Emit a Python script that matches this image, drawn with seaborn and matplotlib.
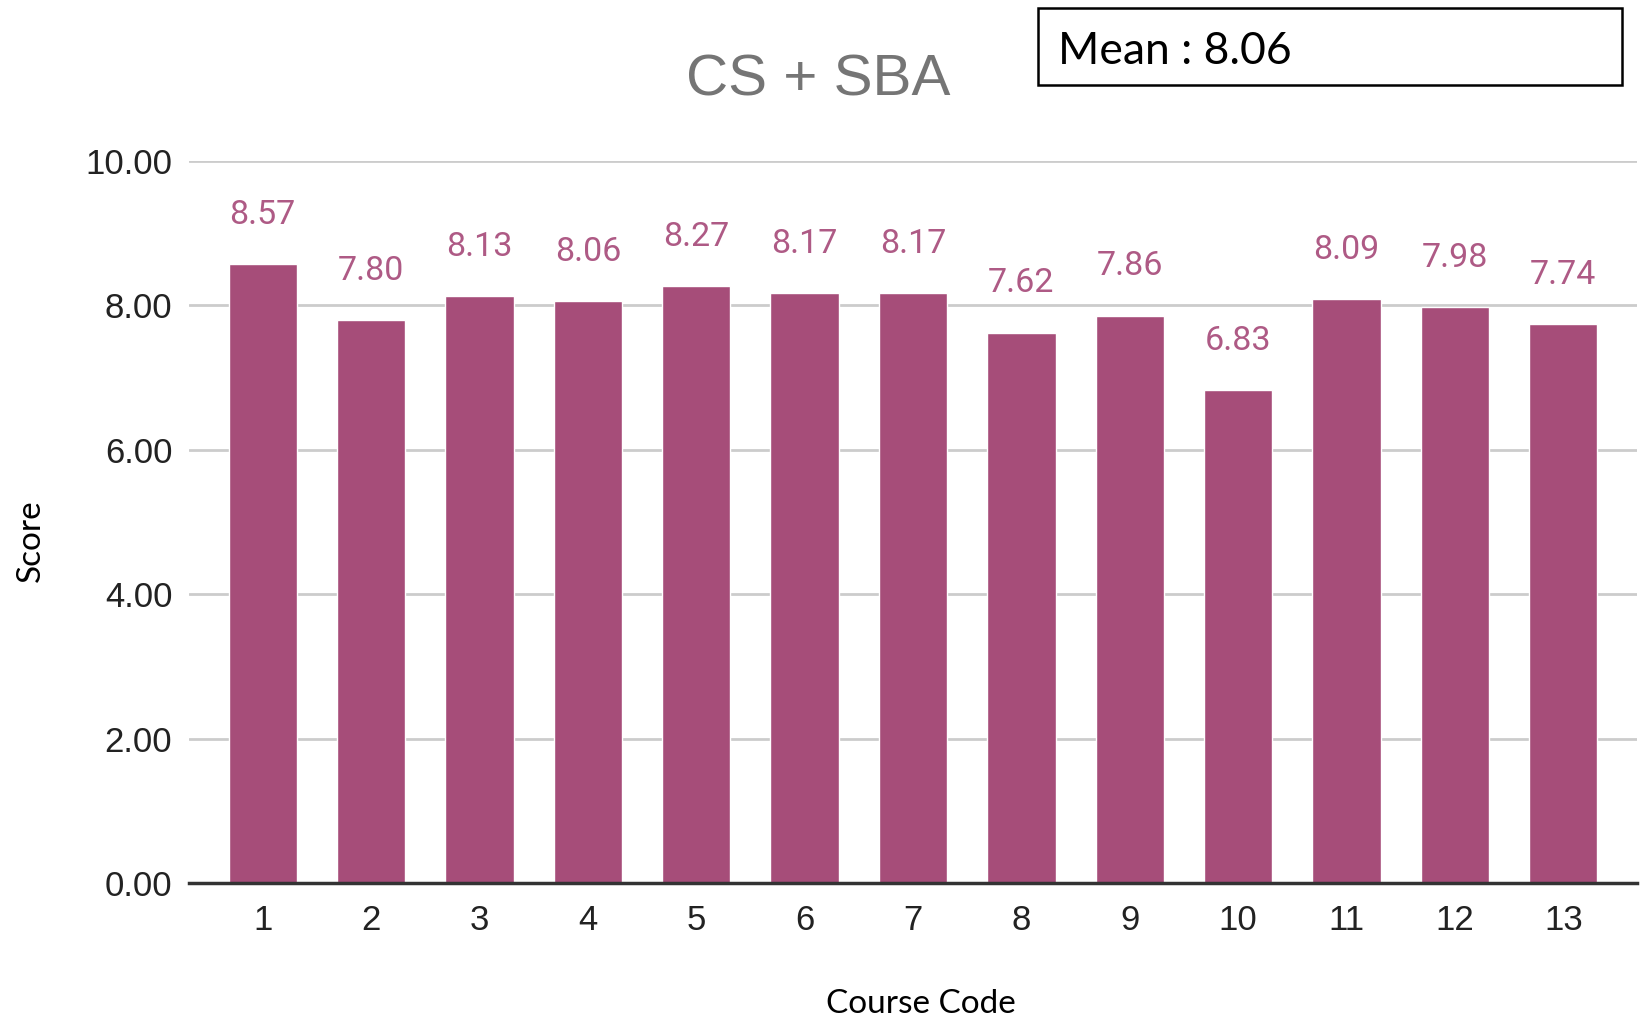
import matplotlib
matplotlib.use("Agg")
import matplotlib.pyplot as plt
import seaborn as sns
import pandas as pd
from matplotlib.patches import Rectangle

course_codes = ["1", "2", "3", "4", "5", "6", "7", "8", "9", "10", "11", "12", "13"]
scores = [8.57, 7.80, 8.13, 8.06, 8.27, 8.17, 8.17, 7.62, 7.86, 6.83, 8.09, 7.98, 7.74]
y_ticks = [0, 2, 4, 6, 8, 10]
title = "CS + SBA"
mean_text = "Mean : 8.06"

BAR_COLOR = "#A64D79"
LABEL_COLOR = "#AE5A85"

sns.set_style("white")
plt.rcParams["font.family"] = ["Liberation Sans", "DejaVu Sans"]

df = pd.DataFrame({"Course Code": course_codes, "Score": scores})

fig = plt.figure(figsize=(16.48, 10.19), dpi=100)
ax = fig.add_axes([0.1147, 0.1335, 0.8786, 0.7085])

sns.barplot(data=df, x="Course Code", y="Score", order=course_codes,
            color=BAR_COLOR, saturation=1, width=0.63, ax=ax)

ax.set_xlim(-0.68, len(course_codes) - 1 + 0.68)
ax.set_ylim(0, 10)
ax.set_yticks(y_ticks)
ax.set_yticklabels([f"{v:.2f}" for v in y_ticks])
ax.yaxis.grid(True, color="#CCCCCC", linewidth=2)
ax.set_axisbelow(True)
ax.tick_params(axis="y", length=0, pad=12, labelsize=25, labelcolor="#222222")
ax.tick_params(axis="x", length=0, pad=15, labelsize=25, labelcolor="#222222")

for side in ["top", "right", "left"]:
    ax.spines[side].set_visible(False)
ax.spines["bottom"].set_color("#333333")
ax.spines["bottom"].set_linewidth(2.5)

# value labels above each bar
ax.bar_label(ax.containers[0], fmt="%.2f", padding=24, color=LABEL_COLOR,
             fontsize=24.5, family=["Roboto", "DejaVu Sans"])

ax.set_xlabel("")
ax.set_ylabel("")
calibri_like = ["Lato", "DejaVu Sans"]
fig.text(921 / 1648, 1 - 1004 / 1019, "Course Code", ha="center", va="center",
         fontsize=24, family=calibri_like, color="black")
fig.text(31 / 1648, 1 - 541 / 1019, "Score", ha="center", va="center", rotation=90,
         fontsize=24, family=calibri_like, color="black")

fig.text(818 / 1648, 1 - 80 / 1019, title, ha="center", va="center",
         fontsize=42, color="#757575")

# mean annotation box
box = Rectangle((1038 / 1648, 1 - 85 / 1019), (1622 - 1038) / 1648, (85 - 8) / 1019,
                transform=fig.transFigure, fill=False, edgecolor="black", linewidth=1.8)
fig.patches.append(box)
fig.text(1058 / 1648, 1 - 51 / 1019, mean_text, ha="left", va="center",
         fontsize=32, family=calibri_like, color="black")

fig.savefig("out.png", dpi=100)
